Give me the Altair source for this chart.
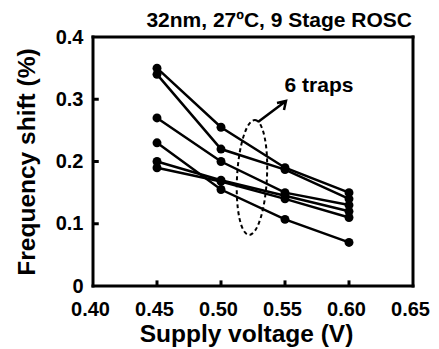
import altair as alt
import pandas as pd

# ---- data ----
voltages = [0.45, 0.50, 0.55, 0.60]
trap1 = [0.35, 0.255, 0.19, 0.15]
trap2 = [0.34, 0.22, 0.187, 0.14]
trap3 = [0.27, 0.20, 0.15, 0.13]
trap4 = [0.23, 0.155, 0.107, 0.07]
trap5 = [0.20, 0.17, 0.145, 0.12]
trap6 = [0.19, 0.168, 0.14, 0.11]
series_names = ["t1", "t2", "t3", "t4", "t5", "t6"]
x_tick_values = [0.40, 0.45, 0.50, 0.55, 0.60, 0.65]
y_tick_values = [0, 0.1, 0.2, 0.3, 0.4]
x_inner_ticks = [0.45, 0.50, 0.55, 0.60]
y_inner_ticks = [0.1, 0.2, 0.3]
x_min, x_max = 0.40, 0.65
y_min, y_max = 0.0, 0.4
title_text = "32nm, 27ºC, 9 Stage ROSC"
annot_text = "6 traps"
ellipse_center = {"x": 0.5242, "y": 0.1743}
arrow_start = {"x": 0.5289, "y": 0.2635}
annot_pos = {"x": 0.5766, "y": 0.321}

rows = []
for name, vals in zip(series_names, [trap1, trap2, trap3, trap4, trap5, trap6]):
    for v, s in zip(voltages, vals):
        rows.append({"series": name, "V": v, "shift": s})
df = pd.DataFrame(rows)

# frame edges and inward tick stubs as thin filled strips (half-thickness in data units)
hx, hy = 0.00117, 0.0024
strips = [
    {"x1": x_min - hx, "x2": x_min + hx, "y1": y_min - hy, "y2": y_max + hy},
    {"x1": x_max - hx, "x2": x_max + hx, "y1": y_min - hy, "y2": y_max + hy},
    {"x1": x_min - hx, "x2": x_max + hx, "y1": y_min - hy, "y2": y_min + hy},
    {"x1": x_min - hx, "x2": x_max + hx, "y1": y_max - hy, "y2": y_max + hy},
]
for v in x_inner_ticks:
    strips.append({"x1": v - hx, "x2": v + hx, "y1": y_min, "y2": y_min + 0.009})
for s in y_inner_ticks:
    strips.append({"x1": x_min, "x2": x_min + 0.0045, "y1": s - hy, "y2": s + hy})
strips_df = pd.DataFrame(strips)

FONT = "Liberation Sans"

xscale = alt.Scale(domain=[x_min, x_max], nice=False, zero=False)
yscale = alt.Scale(domain=[y_min, y_max], nice=False)

x_enc = alt.X(
    "V:Q", scale=xscale,
    axis=alt.Axis(
        values=x_tick_values, format=".2f", ticks=False, domain=False, grid=False,
        labelFont=FONT, labelFontWeight="bold", labelFontSize=20, labelColor="black",
        labelPadding=13, labelFlush=False, labelOffset=-3,
        title="Supply voltage (V)", titleFont=FONT, titleFontWeight="bold", titleFontSize=24.5,
        titleColor="black", titlePadding=3, titleX=153,
    ),
)
y_enc = alt.Y(
    "shift:Q", scale=yscale,
    axis=alt.Axis(
        values=y_tick_values, labelExpr="datum.value == 0 ? '0' : format(datum.value, '.1f')",
        ticks=False, domain=False, grid=False,
        labelFont=FONT, labelFontWeight="bold", labelFontSize=20, labelColor="black",
        labelPadding=10,
        title="Frequency shift (%)", titleFont=FONT, titleFontWeight="bold", titleFontSize=24.5,
        titleColor="black", titlePadding=16,
    ),
)

lines = alt.Chart(df).mark_line(color="black", strokeWidth=2.5).encode(
    x=x_enc, y=y_enc, detail="series:N"
)
points = alt.Chart(df).mark_circle(color="black", size=80, opacity=1).encode(
    x="V:Q", y="shift:Q"
)

frame = alt.Chart(strips_df).mark_rect(color="black", opacity=1).encode(
    x="x1:Q", x2="x2:Q", y="y1:Q", y2="y2:Q"
)

ellipse_path = ("M 0 -1 C 0.1436 -1 0.26 -0.5523 0.26 0 C 0.26 0.5523 0.1436 1 0 1 "
                "C -0.1436 1 -0.26 0.5523 -0.26 0 C -0.26 -0.5523 -0.1436 -1 0 -1 Z")
ellipse = alt.Chart(pd.DataFrame([ellipse_center])).mark_point(
    shape=ellipse_path, size=13225, filled=False, stroke="black", strokeWidth=2,
    strokeDash=[4, 3], opacity=1, angle=3
).encode(x=alt.X("x:Q"), y=alt.Y("y:Q"))

arrow_path = "M 0 0 L 28 -21 M 19 -19 L 28 -21 L 26 -12"
arrow = alt.Chart(pd.DataFrame([arrow_start])).mark_point(
    shape=arrow_path, size=4, filled=False, stroke="black", strokeWidth=2.5, opacity=1
).encode(x=alt.X("x:Q"), y=alt.Y("y:Q"))

annot = alt.Chart(pd.DataFrame([dict(annot_pos, t=annot_text)])).mark_text(
    font=FONT, fontWeight="bold", fontSize=21, color="black", align="center", baseline="middle"
).encode(x=alt.X("x:Q"), y=alt.Y("y:Q"), text="t:N")

title = alt.Chart(pd.DataFrame({"t": [title_text]})).mark_text(
    font=FONT, fontWeight="bold", fontSize=21, color="black", align="right", baseline="alphabetic"
).encode(x=alt.value(319), y=alt.value(-10), text="t:N")

chart = alt.layer(lines, points, frame, ellipse, arrow, annot, title).properties(
    width=320, height=249,
    background="white",
    autosize=alt.AutoSizeParams(type="none"),
    padding={"left": 93, "top": 37, "right": 26, "bottom": 63},
).configure_view(stroke=None)

chart.save("out.html", embed_options={"renderer": "svg", "actions": False})
